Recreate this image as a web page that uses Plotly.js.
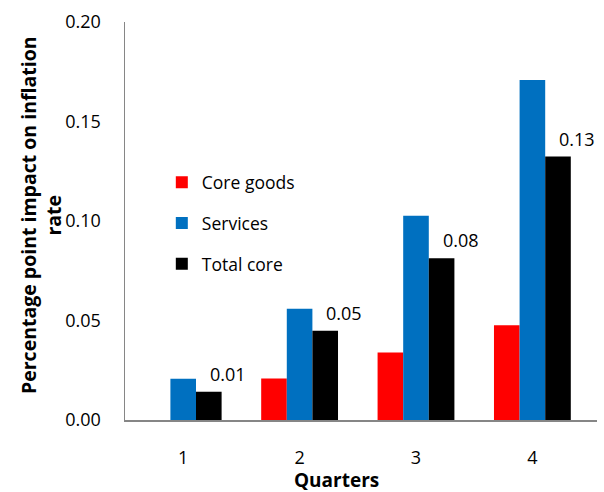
<!DOCTYPE html>
<html>
<head>
<meta charset="utf-8">
<script src="https://cdn.plot.ly/plotly-3.0.1.min.js"></script>
<style>html,body{margin:0;padding:0;background:#fff;}#chart{width:604px;height:492px;}</style>
</head>
<body>
<div id="chart"></div>
<script>
const quarters = ['1', '2', '3', '4'];
const coreGoods = [0, 0.0208, 0.0339, 0.0476];
const services = [0.0207, 0.0559, 0.1026, 0.1708];
const totalCore = [0.0142, 0.0448, 0.0813, 0.1324];
const totalLabels = ['0.01', '0.05', '0.08', '0.13'];
const yTicks = [0, 0.05, 0.10, 0.15, 0.20];
const yTickText = ['0.00', '0.05', '0.10', '0.15', '0.20'];

const FONT = '"Open Sans", "Noto Sans", sans-serif';

const traces = [
  {type: 'bar', name: 'Core goods', x: quarters, y: coreGoods, marker: {color: '#FF0000'}, legendgroup: 'a', hoverinfo: 'skip'},
  {type: 'bar', name: 'Services', x: quarters, y: services, marker: {color: '#0070C0'}, legendgroup: 'b', hoverinfo: 'skip'},
  {type: 'bar', name: 'Total core', x: quarters, y: totalCore, marker: {color: '#000000'}, legendgroup: 'c', hoverinfo: 'skip'}
];

const annotations = totalCore.map((v, i) => ({
  x: i + 0.22, y: v, xref: 'x', yref: 'y',
  text: totalLabels[i], showarrow: false,
  xanchor: 'center', yanchor: 'bottom', xshift: 19, yshift: 4,
  font: {family: FONT, size: 18, color: '#000'}
}));
annotations.push({
  xref: 'paper', yref: 'paper', x: 0.449, y: -0.151, xanchor: 'center', yanchor: 'middle',
  text: '<b>Quarters</b>', showarrow: false, font: {family: FONT, size: 19, color: '#000'}
});
annotations.push({
  xref: 'paper', yref: 'paper', x: -0.178, y: 0.515, xanchor: 'center', yanchor: 'middle',
  text: '<b>Percentage point impact on inflation<br>rate</b>', textangle: -90, showarrow: false,
  font: {family: FONT, size: 19.5, color: '#000'}
});

const layout = {
  width: 604, height: 492,
  margin: {l: 125, r: 7, t: 22, b: 72},
  paper_bgcolor: '#fff', plot_bgcolor: '#fff',
  barmode: 'group', bargap: 0.34, bargroupgap: 0,
  font: {family: FONT, size: 18, color: '#000'},
  xaxis: {
    type: 'category', showgrid: false, zeroline: false,
    showline: true, linecolor: '#868686', linewidth: 1.5,
    ticks: '', ticklabelstandoff: 21,
    tickfont: {family: FONT, size: 18, color: '#000'}
  },
  yaxis: {
    range: [0, 0.2], showgrid: false, zeroline: false,
    showline: true, linecolor: '#868686', linewidth: 1.5,
    tickvals: yTicks, ticktext: yTickText, ticks: '', ticklabelstandoff: 19,
    tickfont: {family: FONT, size: 18, color: '#000'}
  },
  showlegend: true,
  legend: {
    x: 0.078, y: 0.642, xanchor: 'left', yanchor: 'top',
    bgcolor: 'rgba(0,0,0,0)', borderwidth: 0,
    tracegroupgap: 15, font: {family: FONT, size: 17.5, color: '#000'}
  },
  annotations: annotations
};

Plotly.newPlot('chart', traces, layout, {displayModeBar: false, staticPlot: true});
</script>
</body>
</html>
